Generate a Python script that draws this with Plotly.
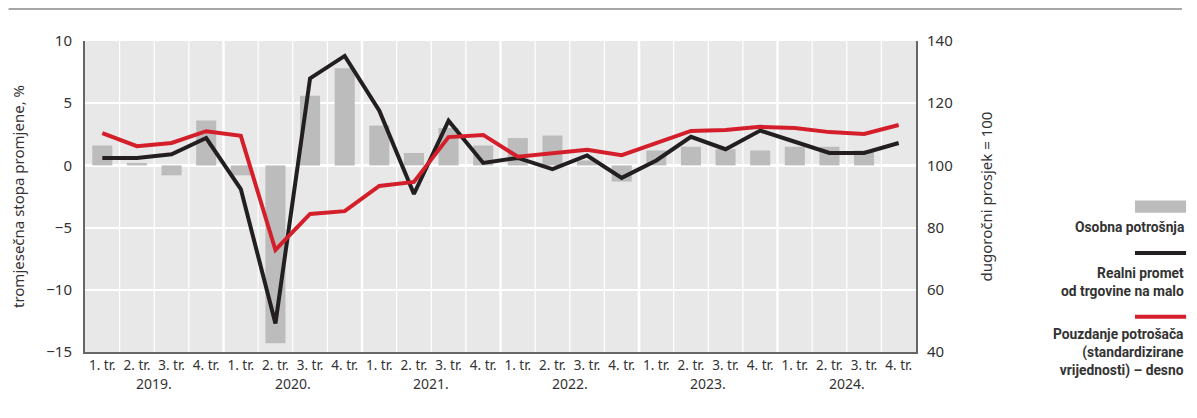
import plotly.graph_objects as go

# --- data ---
quarters = ["1. tr.", "2. tr.", "3. tr.", "4. tr."] * 6
years = ["2019.", "2020.", "2021.", "2022.", "2023.", "2024."]

osobna_potrosnja = [1.6, 0.2, -0.8, 3.6, -0.8, -14.3, 5.6, 7.8, 3.2, 1.0, 3.0, 1.6,
                    2.2, 2.4, 0.4, -1.3, 1.2, 1.5, 1.3, 1.2, 1.5, 1.5, 1.2, None]
realni_promet = [0.6, 0.6, 0.9, 2.2, -1.9, -12.7, 7.0, 8.8, 4.4, -2.3, 3.6, 0.2,
                 0.6, -0.3, 0.8, -1.0, 0.4, 2.3, 1.3, 2.8, 1.9, 1.0, 1.0, 1.8]
pouzdanje = [110.4, 106.2, 107.2, 111.0, 109.5, 72.8, 84.4, 85.3, 93.4, 94.7, 109.1, 109.8,
             102.8, 104.0, 105.0, 103.3, 107.2, 111.1, 111.4, 112.4, 112.0, 110.7, 110.1, 113.0]

COLORS = {
    'bar':   '#bcbcbc',
    'black': '#231f20',
    'red':   '#d41f2b',
    'bg':    '#e8e8e8',
    'text':  '#333333',
    'axis':  '#666666',
}
FONT = "Noto Sans, Open Sans, sans-serif"
LEG_FONT = "Roboto, sans-serif"

x = list(range(len(quarters)))

fig = go.Figure()
fig.add_trace(go.Bar(x=x, y=osobna_potrosnja, marker=dict(color=COLORS['bar'], line_width=0),
                     width=0.58, name="Osobna potrošnja", showlegend=False))
fig.add_trace(go.Scatter(x=x, y=realni_promet, mode="lines",
                         line=dict(color=COLORS['black'], width=4),
                         name="Realni promet od trgovine na malo", showlegend=False))
fig.add_trace(go.Scatter(x=x, y=pouzdanje, mode="lines", yaxis="y2",
                         line=dict(color=COLORS['red'], width=4),
                         name="Pouzdanje potrošača", showlegend=False))

shapes = []
# vertical white separators between quarters (thicker between years)
for i in range(1, len(quarters)):
    shapes.append(dict(type="line", xref="x", yref="paper", x0=i - 0.5, x1=i - 0.5, y0=0, y1=1,
                       line=dict(color="white", width=2.5 if i % 4 == 0 else 1.2), layer="below"))
# top rule
shapes.append(dict(type="line", xref="paper", yref="paper", x0=-0.092, x1=1.32, y0=1.103, y1=1.103,
                   line=dict(color="#888888", width=1.5)))

# legend, drawn by hand at the right
lx0, lx1 = 1.2635, 1.325
shapes.append(dict(type="rect", xref="paper", yref="paper", x0=lx0, x1=lx1, y0=0.448, y1=0.487,
                   fillcolor=COLORS['bar'], line_width=0))
shapes.append(dict(type="line", xref="paper", yref="paper", x0=lx0, x1=lx1, y0=0.318, y1=0.318,
                   line=dict(color=COLORS['black'], width=4)))
shapes.append(dict(type="line", xref="paper", yref="paper", x0=lx0, x1=lx1, y0=0.113, y1=0.113,
                   line=dict(color=COLORS['red'], width=4)))

annotations = []
leg_texts = [
    ("Osobna potrošnja", 0.402),
    ("Realni promet<br>od trgovine na malo", 0.225),
    ("Pouzdanje potrošača<br>(standardizirane<br>vrijednosti) – desno", -0.003),
]
for txt, yy in leg_texts:
    annotations.append(dict(text=txt, xref="paper", yref="paper", x=lx1, y=yy,
                            xanchor="right", yanchor="middle", align="right", showarrow=False,
                            font=dict(family=LEG_FONT, size=13.8, color=COLORS['text'], weight="bold")))

# year labels under the quarter labels
for k, yr in enumerate(years):
    annotations.append(dict(text=yr, xref="x", yref="paper", x=4 * k + 1.5, y=0,
                            yanchor="top", yshift=-20, showarrow=False,
                            font=dict(family=FONT, size=14, color=COLORS['text'])))

# page body has an 8px margin, so the figure is a bit smaller than the window
fig.update_layout(
    width=1189, height=410,
    margin=dict(l=77, r=281, t=33, b=66, autoexpand=False),
    paper_bgcolor="white",
    plot_bgcolor=COLORS['bg'],
    font=dict(family=FONT, color=COLORS['text']),
    bargap=0.4,
    shapes=shapes,
    annotations=annotations,
    xaxis=dict(
        tickmode="array", tickvals=x, ticktext=quarters,
        range=[-0.5, len(quarters) - 0.5],
        showgrid=False, zeroline=False, ticks="", automargin=False,
        showline=True, linecolor=COLORS['axis'], linewidth=2,
        tickfont=dict(size=13.5, color=COLORS['text']),
        fixedrange=True,
    ),
    yaxis=dict(
        range=[-15, 10], tickvals=[-15, -10, -5, 0, 5, 10],
        ticktext=["−15", "−10", "−5", "0", "5", "10"],
        gridcolor="white", gridwidth=1.5, automargin=False,
        zeroline=True, zerolinecolor="white", zerolinewidth=3,
        showline=True, linecolor=COLORS['axis'], linewidth=2,
        ticks="", ticklabelstandoff=8, tickfont=dict(size=15, color=COLORS['text']),
        title=dict(text="tromjesečna stopa promjene, %", font=dict(size=15, color=COLORS['text']),
                   standoff=22),
    ),
    yaxis2=dict(
        range=[40, 140], tickvals=[40, 60, 80, 100, 120, 140],
        overlaying="y", side="right", automargin=False,
        showgrid=False, zeroline=False,
        showline=True, linecolor=COLORS['axis'], linewidth=2,
        ticks="", ticklabelstandoff=6, tickfont=dict(size=15, color=COLORS['text']),
        title=dict(text="dugoročni prosjek = 100", font=dict(size=15, color=COLORS['text']),
                   standoff=30),
    ),
)

fig.write_html("out.html")
